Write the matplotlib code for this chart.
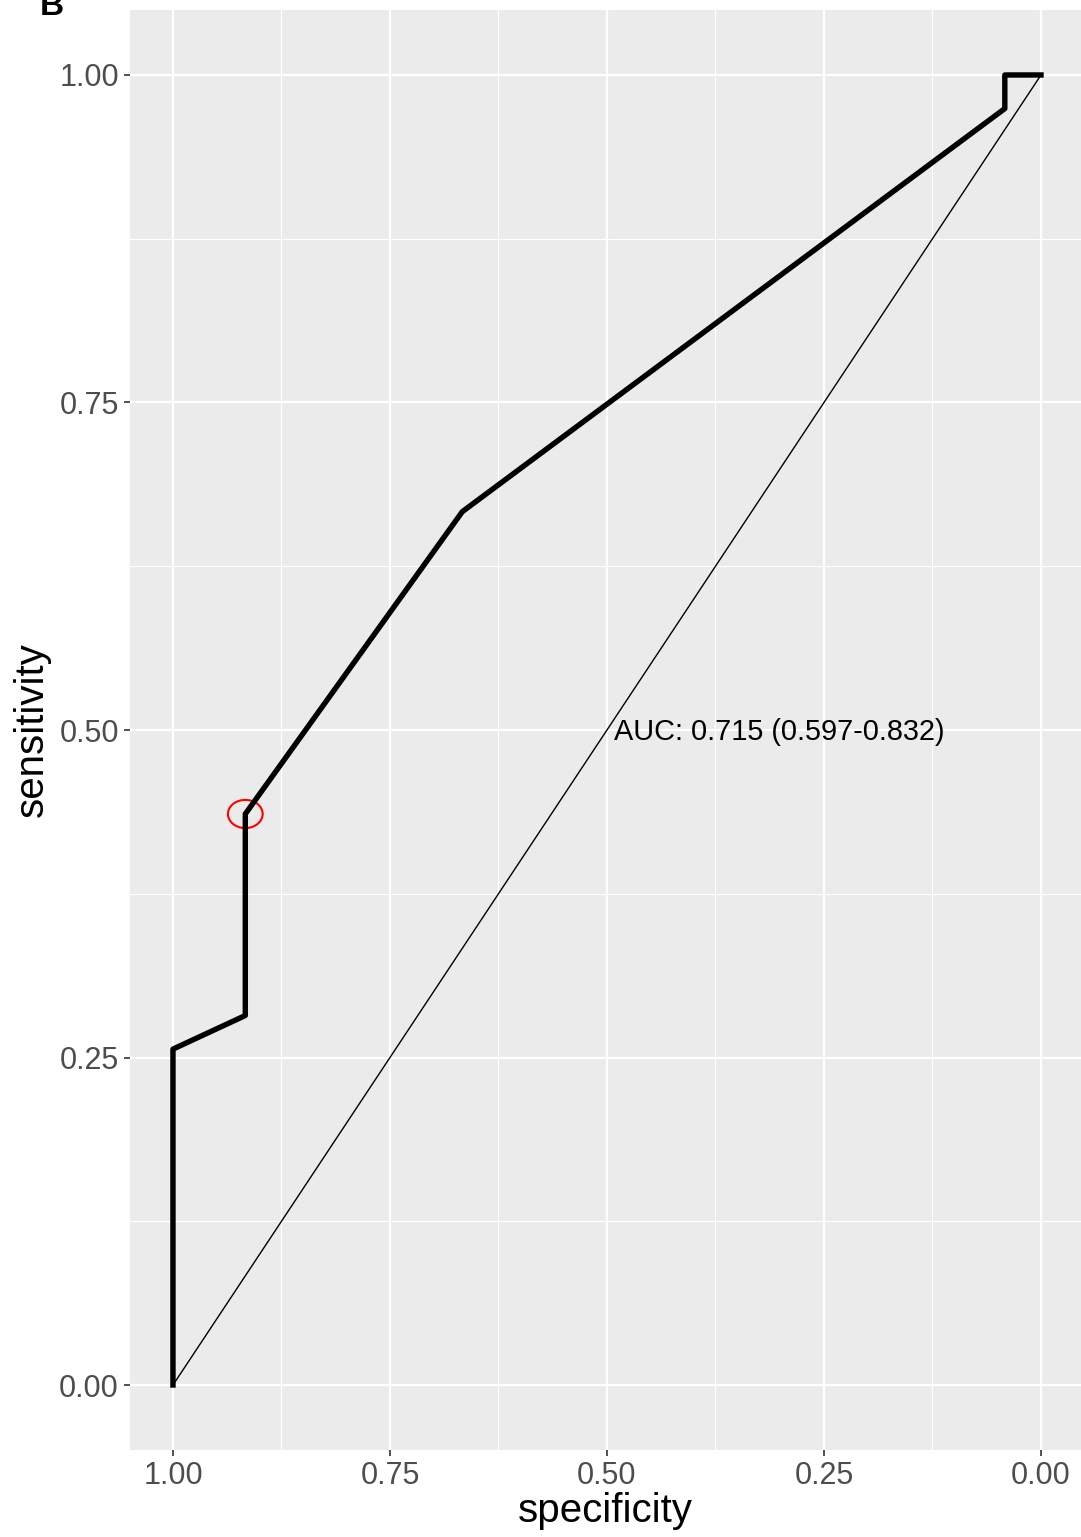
import matplotlib
matplotlib.use("Agg")
import matplotlib.pyplot as plt
from matplotlib.patches import Ellipse
import numpy as np

# ROC curve points (specificity, sensitivity)
specificity = [1.0, 1.0, 22 / 24, 22 / 24, 16 / 24, 1 / 24, 1 / 24, 0.0]
sensitivity = [0.0, 10 / 39, 11 / 39, 17 / 39, 26 / 39, 38 / 39, 1.0, 1.0]
best_point = (22 / 24, 17 / 39)
auc_text = "AUC: 0.715 (0.597-0.832)"
tick_values = [0.0, 0.25, 0.5, 0.75, 1.0]
tick_labels = ["0.00", "0.25", "0.50", "0.75", "1.00"]

plt.rcParams['font.family'] = ['Liberation Sans', 'DejaVu Sans']

fig = plt.figure(figsize=(10.81, 15.37), dpi=100)
ax = fig.add_axes([130 / 1081, 87 / 1537, 951 / 1081, 1440 / 1537])
ax.set_facecolor('#EBEBEB')

# panel is cut at the right edge of the image
ax.set_xlim(1.0495, -0.0461)
ax.set_ylim(-0.0496, 1.0496)

ax.set_xticks(tick_values)
ax.set_xticklabels(tick_labels)
ax.set_yticks(tick_values)
ax.set_yticklabels(tick_labels)
ax.set_xticks(np.arange(0.125, 1.0, 0.25), minor=True)
ax.set_yticks(np.arange(0.125, 1.0, 0.25), minor=True)
ax.grid(True, which='major', color='white', linewidth=1.6)
ax.grid(True, which='minor', color='white', linewidth=0.8)
ax.set_axisbelow(True)
for s in ax.spines.values():
    s.set_visible(False)
ax.tick_params(which='major', length=4, width=1.2, color='#333333',
               labelcolor='#4D4D4D', labelsize=22, pad=4)
ax.tick_params(which='minor', length=0)

# chance line
ax.plot([1, 0], [0, 1], color='black', linewidth=1.0)
# ROC curve
ax.plot(specificity, sensitivity, color='black', linewidth=3.9)

ax.add_patch(Ellipse(best_point, width=0.040, height=0.0215, fill=False,
                     edgecolor='red', linewidth=1.5))

ax.text(0.492, 0.4985, auc_text, ha='left', va='center', fontsize=20.8, color='black')

ax.set_xlabel('specificity', fontsize=29, labelpad=1)
ax.set_ylabel('sensitivity', fontsize=29, labelpad=6)

fig.text(40 / 1081, 1 - 15 / 1537, 'B', fontsize=24, fontweight='bold',
         ha='left', va='baseline')

fig.savefig('out.png', dpi=100, facecolor='white')
